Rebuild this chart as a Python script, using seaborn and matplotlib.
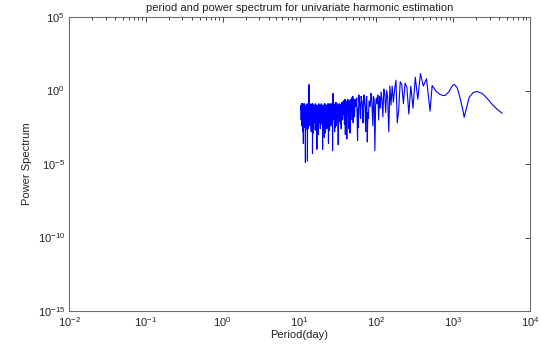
import numpy as np
import pandas as pd
import matplotlib
matplotlib.use("Agg")
import matplotlib.pyplot as plt
from matplotlib.ticker import LogLocator, NullLocator, NullFormatter, LogFormatterMathtext
import seaborn as sns

# ---- data (log10 of power) ----
record_days = 4500  # length of the series, days

# harmonics 9..44 (periods ~500 .. ~102 days), step 1
log_power_low_k = [
    -1.4, 0.8, 0.3, 1.15, -0.6, 0.9, -1.2, 0.3, -1.6, 0.2,
    0.5, -0.9, 0.4, 0.6, -1.3, -2.2, 0.7, 0.1, -0.8, 0.3,
    -1.0, 0.3, -2.8, -0.5, 0.0, -1.5, -0.2, 0.1, -1.8, -0.6,
    -0.1, -1.2, -0.4, -2.0, -0.3, -0.9,
]

# odd harmonics 45, 47, ... (periods ~100 .. ~10.5 days)
log_power_odd_k = [
    -0.5, -4.1, -0.4, -1.3, -0.2, -0.9, -1.9, -3.5, -0.6, -1.2,
    -0.3, -2.2, -0.8, -0.4, -1.6, -0.7, -2.5, -3.4, -0.5, -1.1,
    -0.6, -1.8, -0.9, -0.4, -2.0, -1.0, -0.6, -2.9, -1.3, -0.7,
    -1.6, -1.0, -3.3, -0.8, -1.4, -0.6, -2.3, -1.1, -0.7, -1.9,
    -1.2, -0.8, -2.6, -1.0, -1.5, -0.9, -2.1, -1.3, -3.7, -0.9,
    -1.6, -1.1, -2.4, -0.8, -1.7, -1.2, -2.8, -1.0, -0.9, -2.0,
    -0.2, -4.1, -1.4, -1.0, -2.2, -1.2, -0.9, -1.8, -1.3, -2.7,
    -1.0, -1.5, -3.6, -1.1, -0.9, -2.0, -1.4, -1.0, -2.5, -1.2,
    -1.7, -1.0, -2.9, -1.3, -0.9, -1.9, -1.1, -1.6, -2.4, -1.0,
    -4.0, -1.4, -1.1, -2.1, -1.2, -0.9, -1.8, -1.3, -2.6, -1.0,
    -1.5, -1.1, -2.2, -1.4, -0.9, -1.7, -3.0, -1.2, -1.0, -2.3,
    -1.5, -4.0, -1.1, -1.6, -1.0, -2.0, -1.3, -0.9, -2.7, -1.2,
    -1.5, -1.0, -2.2, -1.4, -1.1, -1.8, -1.3, -2.5, -1.0, -1.6,
    -4.3, -1.2, -0.9, -2.0, -1.4, -1.1, -2.8, -1.2, -1.7, -1.0,
    -2.1, -1.3, -0.9, -1.6, -2.4, -1.1, -1.4, 0.4, -1.5, -2.0,
    -1.2, -1.0, -2.6, -1.3, -1.1, -4.8, -1.4, -1.0, -1.9, -1.2,
    -2.3, -1.1, -1.5, -1.0, -2.7, -1.3, -4.9, -1.2, -1.0, -2.0,
    -1.4, -1.1, -2.5, -1.2, -1.6, -1.0, -2.2, -1.3, -3.6, -1.1,
    -1.5, -0.9, -2.8, -1.2, -1.7, -1.0, -2.1, -1.3, -0.9, -2.4,
    -1.2, -1.6, -1.0,
]

# even harmonics 46, 48, ... (periods ~98 .. ~10.5 days)
log_power_even_k = [
    -1.0, -0.6, -2.4, -0.3, -1.1, -0.7, -1.5, -0.4, -2.8, -0.9,
    -0.5, -1.3, -0.6, -1.9, -0.8, -0.3, -1.2, -2.0, -0.7, -0.9,
    -1.4, -0.6, -2.2, -0.8, -0.5, -1.5, -1.1, -0.7, -2.6, -0.9,
    -0.6, -1.8, -1.2, -0.7, -3.0, -1.0, -0.8, -1.6, -1.1, -2.0,
    -0.9, -1.4, -1.0, -2.3, -0.9, -1.2, -1.7, -1.0, -2.1, -1.3,
    -1.0, -1.9, -1.2, -0.9, -2.5, -1.1, -1.4, -1.0, -1.8, -1.2,
    -2.0, -1.1, -0.9, -1.6, -1.3, -2.4, -1.0, -1.2, -1.9, -1.1,
    -0.9, -2.2, -1.3, -1.0, -1.7, -1.2, -2.6, -1.0, -1.4, -1.1,
    -2.0, -1.2, -0.9, -1.5, -3.2, -1.1, -1.3, -1.0, -2.1, -1.2,
    -1.6, -1.0, -2.3, -1.3, -0.9, -1.8, -1.1, -1.4, -2.5, -1.0,
    -1.2, -1.9, -1.1, -0.9, -2.2, -1.3, -1.5, -1.0, -2.0, -1.2,
    -1.4, -2.6, -1.0, -1.2, -1.8, -1.1, -0.9, -2.3, -1.3, -1.0,
    -1.7, -1.2, -2.1, -1.0, -1.4, -1.1, -2.9, -1.2, -0.9, -1.6,
    -1.3, -2.2, -1.0, -1.1, -1.8, -1.2, -2.5, -1.0, -1.4, -1.2,
    -2.0, -1.1, -0.9, -1.7, -1.3, -2.3, -1.0, -1.2, -1.9, -1.1,
    -1.4, -2.6, -1.0, -1.3, -1.8, -1.1, -0.9, -2.2, -1.2, -1.5,
    -1.0, -2.4, -1.3, -1.1, -1.9, -1.2, -3.1, -1.0, -1.4, -1.1,
    -2.1, -1.2, -0.9, -1.7, -1.3, -2.5, -1.0, -1.2, -1.8, -1.1,
    -1.4, -2.2, -1.0, -1.3, -1.9, -1.1, -0.9, -2.4, -1.2, -1.5,
    -1.0, -2.0, -1.3,
]

# smooth long-period part
smooth_period = [533, 567, 601, 678, 740, 787, 887, 940, 1000, 1031, 1127,
                 1233, 1349, 1390, 1476, 1615, 1820, 2054, 2387, 2773,
                 3221, 3741, 4345]
smooth_log_power = [0.34, 0.14, -0.07, -0.27, -0.34, -0.34, -0.07, 0.2, 0.38,
                    0.41, 0.2, -0.54, -1.42, -1.82, -1.28, -0.47, -0.14, -0.07,
                    -0.2, -0.54, -0.95, -1.28, -1.55]

# ---- assemble ----
k_low = np.arange(9, 9 + len(log_power_low_k))
k_odd = np.arange(45, 45 + 2 * len(log_power_odd_k), 2)
k_even = np.arange(46, 46 + 2 * len(log_power_even_k), 2)
period = np.concatenate([record_days / k_low, record_days / k_odd,
                         record_days / k_even, smooth_period])
log_power = np.concatenate([log_power_low_k, log_power_odd_k,
                            log_power_even_k, smooth_log_power])
df = pd.DataFrame({"period": period, "power": 10.0 ** log_power})
df = df.sort_values("period").reset_index(drop=True)

# ---- style ----
sns.set_theme(style="white")
plt.rcParams["font.family"] = ["Liberation Sans", "DejaVu Sans"]
plt.rcParams["mathtext.fontset"] = "custom"
plt.rcParams["mathtext.rm"] = "Liberation Sans"
plt.rcParams["mathtext.it"] = "Liberation Sans:italic"
plt.rcParams["mathtext.bf"] = "Liberation Sans:bold"

fig = plt.figure(figsize=(5.41, 3.51), dpi=100)
ax = fig.add_axes([69 / 541, 1 - 311 / 351, (530 - 69) / 541, (311 - 17) / 351])

sns.lineplot(data=df, x="period", y="power", ax=ax, color="#0000ff",
             linewidth=0.8, estimator=None, sort=False)

ax.set_xscale("log")
ax.set_yscale("log")
ax.set_xlim(1e-2, 1e4)
ax.set_ylim(1e-15, 1e5)

ax.xaxis.set_major_locator(LogLocator(base=10, numticks=20))
ax.xaxis.set_minor_locator(LogLocator(base=10, subs=np.arange(2, 10), numticks=20))
ax.xaxis.set_major_formatter(LogFormatterMathtext())
ax.xaxis.set_minor_formatter(NullFormatter())
ax.set_yticks([1e-15, 1e-10, 1e-5, 1e0, 1e5])
ax.yaxis.set_minor_locator(NullLocator())
ax.yaxis.set_major_formatter(LogFormatterMathtext())

ax.tick_params(which="both", direction="in", top=True, right=True,
               colors="#222222", labelsize=8, pad=3)
ax.tick_params(which="major", length=3.5, width=0.6)
ax.tick_params(which="minor", length=2, width=0.6)
for s in ax.spines.values():
    s.set_color("#6e6e6e")
    s.set_linewidth(0.8)

ax.set_xlabel("Period(day)", fontsize=8, color="#222222", labelpad=1)
ax.set_ylabel("Power Spectrum", fontsize=8, color="#222222", labelpad=4)
ax.set_title("period and power spectrum for univariate harmonic estimation",
             fontsize=8, color="#222222", pad=4)

fig.savefig("out.png", dpi=100, facecolor="white")
